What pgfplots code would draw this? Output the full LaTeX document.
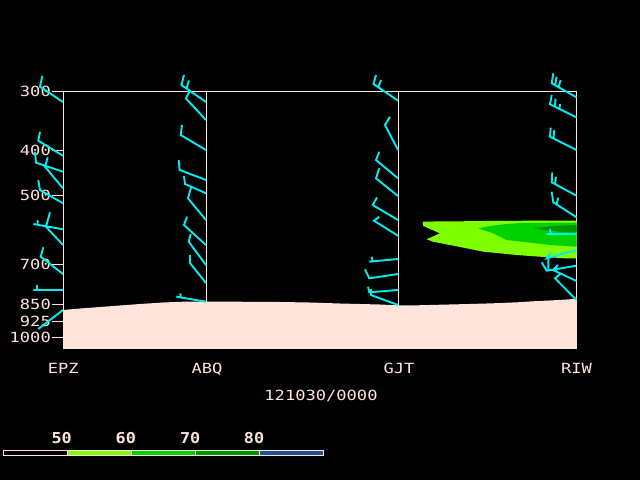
\documentclass[border=0pt]{standalone}
\usepackage{fontspec}
\usepackage{pgfplots}
\pgfplotsset{compat=1.18}
\newfontfamily\gfont{DejaVu Sans Mono}[FakeStretch=1.22]
\newfontfamily\gbfont{DejaVu Sans Mono Bold}[FakeStretch=1.12]
\definecolor{fg}{HTML}{FFE4DC}
\definecolor{barbc}{HTML}{00EEF2}
\definecolor{ga}{HTML}{80FF00}
\definecolor{gb}{HTML}{00D200}
\definecolor{gc}{HTML}{009400}
\definecolor{gd}{HTML}{1C5494}
\begin{document}
\begin{tikzpicture}[x=1pt,y=1pt]
\useasboundingbox (0,0) rectangle (640,480);
\fill[black] (0,0) rectangle (640,480);
\begin{axis}[
  at={(319.5pt,260.5pt)}, anchor=center,
  width=513pt, height=257pt, scale only axis,
  xmin=63, xmax=576, ymin=91, ymax=348, y dir=reverse,
  clip=false,
  axis line style={fg, line width=1pt},
  xtick=\empty,
  ytick={91,150,195.7,264.7,304.5,321.8,337.8},
  yticklabels={300,400,500,700,850,925,1000},
  ytick pos=left, tick align=outside, major tick length=11pt,
  tick style={fg, line width=1pt},
  yticklabel style={font=\gfont\fontsize{14}{14}\selectfont, text=fg, inner xsep=1pt},
  /pgf/number format/assume math mode=true,
  barb/.style={barbc, line width=1.9pt, unbounded coords=jump, line join=miter},
]
% station verticals
\addplot[fg, line width=1pt] coordinates {(206,91) (206,348)};
\addplot[fg, line width=1pt] coordinates {(398,91) (398,348)};
% isotach shading
\addplot[fill=ga, draw=none] coordinates {
 (422.7,221.7) (433,221.5) (460,221.3) (500,220.8) (540,220.7) (576.5,220.7)
 (576.5,258.3) (565,258.3) (540,256.7) (516.7,255) (500,253.3) (483.3,251.7)
 (466.7,248.3) (450,245) (433,241.7) (426.7,239.3) (440,233.3) (423.3,226)};
\addplot[fill=gb, draw=none] coordinates {
 (478.3,228.3) (490,226) (506.7,224) (520,223) (576.5,222.5) (576.5,246.7)
 (550,245) (533.3,243) (506.7,240) (493.3,233.3)};
\addplot[fill=gc, draw=none] coordinates {
 (533.3,228.3) (550,226.3) (566.7,225.3) (576.5,225) (576.5,232.3)
 (560,231.7) (543.3,230)};
% terrain
\addplot[fill=fg, draw=none] coordinates {
 (63,310) (80,308.5) (100,307) (120,305.5) (140,304) (163,302.5) (183,301.7)
 (206,301.5) (250,301.8) (280,302) (310,302.5) (340,303.5) (380,304.5)
 (398,305.3) (410,305.5) (429,305) (469,304) (493,303.3) (517,302.3)
 (533,301.3) (553,300.3) (570,299.3) (576.5,298.5) (576.5,348) (63,348)};
% wind barbs EPZ
\addplot[barb] table {
x y
42.3 76
40 86.7
63 102
nan nan
40 131.7
38.3 140.7
63 155.7
nan nan
35 151.7
36 162.7
63 171.7
nan nan
47.7 157.3
45 166.7
63 188.3
nan nan
38.3 180
40 190
63 203.3
nan nan
37.7 220
37.7 224.3
nan nan
33.3 224
63 229.3
nan nan
50 212.3
46 226.7
63 245
nan nan
43.3 247.3
40.7 256.7
63 274
nan nan
36.7 285
37.3 289.5
nan nan
33.3 290
63 290
nan nan
38.3 329
63 310
};
% ABQ
\addplot[barb] table {
x y
184 75
181.5 85
206 102
nan nan
186.5 88.5
189 80.5
nan nan
189.5 91.5
186 98.5
206 120
nan nan
182 125
180.7 135
206 150
nan nan
178.7 160
179.7 170
206 180
nan nan
184 176
185 184
206 193.3
nan nan
191.3 186.7
188 198.3
206 220
nan nan
187 216.7
184 225
206 245
nan nan
190.7 234
188.7 241.7
206 265
nan nan
190 255
190 263
206 283
nan nan
180.3 293.3
180.7 297.2
nan nan
176.3 296.7
206 301.7
};
% GJT
\addplot[barb] table {
x y
376 75
373.5 84
398 100.7
nan nan
378.5 87
381 80
nan nan
390 116.7
385 125
398 150
nan nan
379.3 151.7
376 160
398 178.3
nan nan
379.3 168.3
376 178.3
398 196
nan nan
377 197.5
372.7 205
398 220
nan nan
379.3 216.7
374 220.7
398 235.7
nan nan
371.7 256.7
372.7 261.5
nan nan
369.3 261.7
398 259
nan nan
365 269.3
369.3 278.3
398 274
nan nan
368 286.7
369.3 292.3
398 290
nan nan
371 289
371 295
398 305
};
% RIW
\addplot[barb] table {
x y
553.3 73.3
551.7 83.3
576.5 97.3
nan nan
555 85.5
556.7 76.7
nan nan
558.5 87.5
560.7 80
nan nan
551.7 95
550 104.3
576.5 117.3
nan nan
555 107
555.5 98.5
nan nan
559.5 109
560 104
nan nan
550.7 127.7
550 136.7
576.5 150
nan nan
553.5 138.3
554.3 130
nan nan
552.3 172.3
551.7 182.3
576.5 195.7
nan nan
555 184.3
556 176.7
nan nan
551.7 191.7
553.3 202.3
576.5 217.3
nan nan
556.5 204.5
558.3 197.7
nan nan
550 229
550.7 233.5
nan nan
546.7 234
576.5 234
nan nan
551 252.5
546.7 258.3
576.5 250
nan nan
541.7 262.3
546.7 270.7
576.5 265.7
nan nan
548.3 256.7
548.3 270
nan nan
558 265
553 270
576.5 281
nan nan
560 274.3
555 278.3
576.5 300
};
% labels
\node[text=fg, font=\gfont\fontsize{14}{14}\selectfont, anchor=base] at (axis cs:63.3,373.3) {EPZ};
\node[text=fg, font=\gfont\fontsize{14}{14}\selectfont, anchor=base] at (axis cs:207,373.3) {ABQ};
\node[text=fg, font=\gfont\fontsize{14}{14}\selectfont, anchor=base] at (axis cs:399,373.3) {GJT};
\node[text=fg, font=\gfont\fontsize{14}{14}\selectfont, anchor=base] at (axis cs:576.6,373.3) {RIW};
\node[text=fg, font=\gfont\fontsize{14}{14}\selectfont, anchor=base] at (axis cs:321,400) {121030/0000};
% colour bar
\fill[black] (axis cs:3.3,450.7) rectangle (axis cs:67.3,455.3);
\fill[ga] (axis cs:67.3,450.7) rectangle (axis cs:131.3,455.3);
\fill[gb] (axis cs:131.3,450.7) rectangle (axis cs:195.3,455.3);
\fill[gc] (axis cs:195.3,450.7) rectangle (axis cs:259.3,455.3);
\fill[gd] (axis cs:259.3,450.7) rectangle (axis cs:323.3,455.3);
\draw[fg, line width=1pt] (axis cs:3.3,450.7) rectangle (axis cs:323.3,455.3);
\draw[fg, line width=1pt] (axis cs:67.3,450.7) -- (axis cs:67.3,455.3)
  (axis cs:131.3,450.7) -- (axis cs:131.3,455.3)
  (axis cs:195.3,450.7) -- (axis cs:195.3,455.3)
  (axis cs:259.3,450.7) -- (axis cs:259.3,455.3);
\node[text=fg, font=\gbfont\fontsize{15}{15}\selectfont, anchor=base] at (axis cs:61.7,443) {50};
\node[text=fg, font=\gbfont\fontsize{15}{15}\selectfont, anchor=base] at (axis cs:125.8,443) {60};
\node[text=fg, font=\gbfont\fontsize{15}{15}\selectfont, anchor=base] at (axis cs:190.2,443) {70};
\node[text=fg, font=\gbfont\fontsize{15}{15}\selectfont, anchor=base] at (axis cs:254,443) {80};
\end{axis}
\end{tikzpicture}
\end{document}
